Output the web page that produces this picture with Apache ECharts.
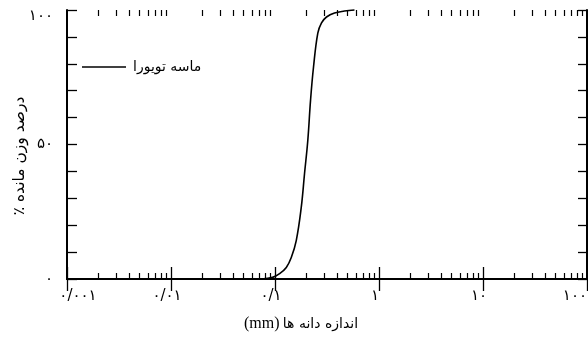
<!DOCTYPE html>
<html><head><meta charset="utf-8">
<script src="https://cdn.jsdelivr.net/npm/echarts@6.0.0/dist/echarts.min.js"></script>
<style>html,body{margin:0;padding:0;background:#fff}#c{width:588px;height:342px}</style>
</head><body><div id="c"></div><script>
// ---- data ----
const grainSize = [0.0743, 0.0948, 0.1107, 0.1284, 0.1434, 0.1601, 0.1788, 0.1924, 0.2068, 0.2197, 0.2346, 0.2580, 0.2801, 0.3127, 0.3733, 0.4655, 0.581];
const percentRetained = [0, 0.6, 2.0, 4.3, 8.0, 14.3, 26.6, 39.3, 51.6, 66.5, 78.8, 91.4, 95.2, 97.4, 98.9, 99.6, 100];
const seriesName = 'ماسه تویورا';
const xTickValues = [0.001, 0.01, 0.1, 1, 10, 100];
const xTickLabels = ['۰/۰۰۱', '۰/۰۱', '۰/۱', '۱', '۱۰', '۱۰۰'];
const xMinorTickValues = [
  0.002, 0.003, 0.004, 0.005, 0.006, 0.007, 0.008, 0.009,
  0.02, 0.03, 0.04, 0.05, 0.06, 0.07, 0.08, 0.09,
  0.2, 0.3, 0.4, 0.5, 0.6, 0.7, 0.8, 0.9,
  2, 3, 4, 5, 6, 7, 8, 9,
  20, 30, 40, 50, 60, 70, 80, 90
];
const yTickValues = [0, 50, 100];
const yTickLabels = ['۰', '۵۰', '۱۰۰'];
const xAxisTitle = 'اندازه دانه ها';
const xAxisUnit = '(mm)';
const yAxisTitle = '٪ درصد وزن مانده';

const FONT = 'DejaVu Sans';
const TICK_FS = 15;
const gridRect = {left: 67, right: 1, top: 10, bottom: 63, containLabel: false, outerBoundsMode: 'none'};
const lineStyle = {color: '#000', width: 2};

function xLabel(v) {
  const i = xTickValues.findIndex(t => Math.abs(Math.log10(t) - Math.log10(v)) < 1e-6);
  if (i < 0) return '';
  const style = i === 0 ? 'first' : (i === xTickValues.length - 1 ? 'last' : 'mid');
  return '{' + style + '|' + xTickLabels[i] + '}';
}
function yLabel(v) {
  const i = yTickValues.indexOf(v);
  if (i < 0) return '';
  return '{' + (i === yTickValues.length - 1 ? 'top' : 'n') + '|' + yTickLabels[i] + '}';
}

const chart = echarts.init(document.getElementById('c'), null, {renderer: 'canvas'});
chart.setOption({
  animation: false,
  backgroundColor: '#fff',
  grid: [
    Object.assign({}, gridRect),
    Object.assign({}, gridRect)
  ],
  legend: {
    left: 77, top: 55,
    icon: 'rect', itemWidth: 44, itemHeight: 1.5, itemGap: 0,
    textStyle: {fontFamily: FONT, fontSize: 14, color: '#000', padding: [0, 0, 0, 2]},
    data: [seriesName]
  },
  xAxis: [
    {
      type: 'log', logBase: 10, gridIndex: 0, position: 'bottom', min: 0.001, max: 100,
      axisLine: {lineStyle: lineStyle},
      axisTick: {inside: true, length: 12, customValues: xTickValues, lineStyle: {color: '#000', width: 1.3}},
      axisLabel: {
        customValues: xTickValues, formatter: xLabel, margin: 10, alignMaxLabel: 'right',
        color: '#000', fontFamily: FONT, fontSize: TICK_FS,
        rich: {
          first: {fontFamily: FONT, fontSize: TICK_FS, color: '#000', padding: [0, 0, 0, 22]},
          mid: {fontFamily: FONT, fontSize: TICK_FS, color: '#000', padding: [0, 8, 0, 0]},
          last: {fontFamily: FONT, fontSize: TICK_FS, color: '#000'}
        }
      },
      splitLine: {show: false},
      name: '{u|' + xAxisUnit + '} {t|' + xAxisTitle + '}',
      nameLocation: 'middle', nameGap: 37, nameMoveOverlap: false,
      nameTextStyle: {
        padding: [0, 52, 0, 0],
        rich: {
          u: {fontFamily: 'Liberation Serif', fontSize: 16, color: '#000'},
          t: {fontFamily: FONT, fontSize: 14, color: '#000'}
        }
      }
    },
    {
      type: 'log', logBase: 10, gridIndex: 0, position: 'top', min: 0.001, max: 100,
      axisLine: {lineStyle: lineStyle},
      axisTick: {inside: true, length: 12, customValues: xTickValues, lineStyle: {color: '#000', width: 1.3}},
      axisLabel: {show: false},
      splitLine: {show: false}
    },
    {
      type: 'log', logBase: 10, gridIndex: 1, position: 'bottom', min: 0.001, max: 100,
      axisLine: {show: false},
      axisTick: {inside: true, length: 6, customValues: xMinorTickValues, lineStyle: {color: '#000', width: 1.2}},
      axisLabel: {show: false},
      splitLine: {show: false}
    },
    {
      type: 'log', logBase: 10, gridIndex: 1, position: 'top', min: 0.001, max: 100,
      axisLine: {show: false},
      axisTick: {inside: true, length: 6, customValues: xMinorTickValues, lineStyle: {color: '#000', width: 1.2}},
      axisLabel: {show: false},
      splitLine: {show: false}
    }
  ],
  yAxis: [
    {
      type: 'value', gridIndex: 0, position: 'left', min: 0, max: 100, interval: 10,
      axisLine: {show: true, lineStyle: lineStyle},
      axisTick: {show: true, inside: true, length: 10, lineStyle: {color: '#000', width: 1.3}},
      axisLabel: {
        customValues: yTickValues, formatter: yLabel, margin: 14, color: '#000', fontFamily: FONT, fontSize: TICK_FS,
        rich: {
          n: {fontFamily: FONT, fontSize: TICK_FS, color: '#000'},
          top: {fontFamily: FONT, fontSize: TICK_FS, color: '#000', padding: [12, 0, 0, 0]}
        }
      },
      splitLine: {show: false},
      name: yAxisTitle, nameLocation: 'middle', nameGap: 39, nameRotate: 90, nameMoveOverlap: false,
      nameTextStyle: {fontFamily: FONT, fontSize: 15.5, color: '#000', padding: [0, 23, 0, 0]}
    },
    {
      type: 'value', gridIndex: 0, position: 'right', min: 0, max: 100, interval: 10,
      axisLine: {show: true, lineStyle: lineStyle},
      axisTick: {show: true, inside: true, length: 9, lineStyle: {color: '#000', width: 1.3}},
      axisLabel: {show: false},
      splitLine: {show: false}
    },
    {
      type: 'value', gridIndex: 1, min: 0, max: 100, show: false
    }
  ],
  series: [{
    name: seriesName,
    type: 'line',
    xAxisIndex: 0, yAxisIndex: 0,
    data: grainSize.map((x, i) => [x, percentRetained[i]]),
    smooth: 0.4,
    symbol: 'none', showSymbol: false,
    clip: false,
    lineStyle: {color: '#000', width: 1.6},
    itemStyle: {color: '#000'}
  }]
});
</script></body></html>
